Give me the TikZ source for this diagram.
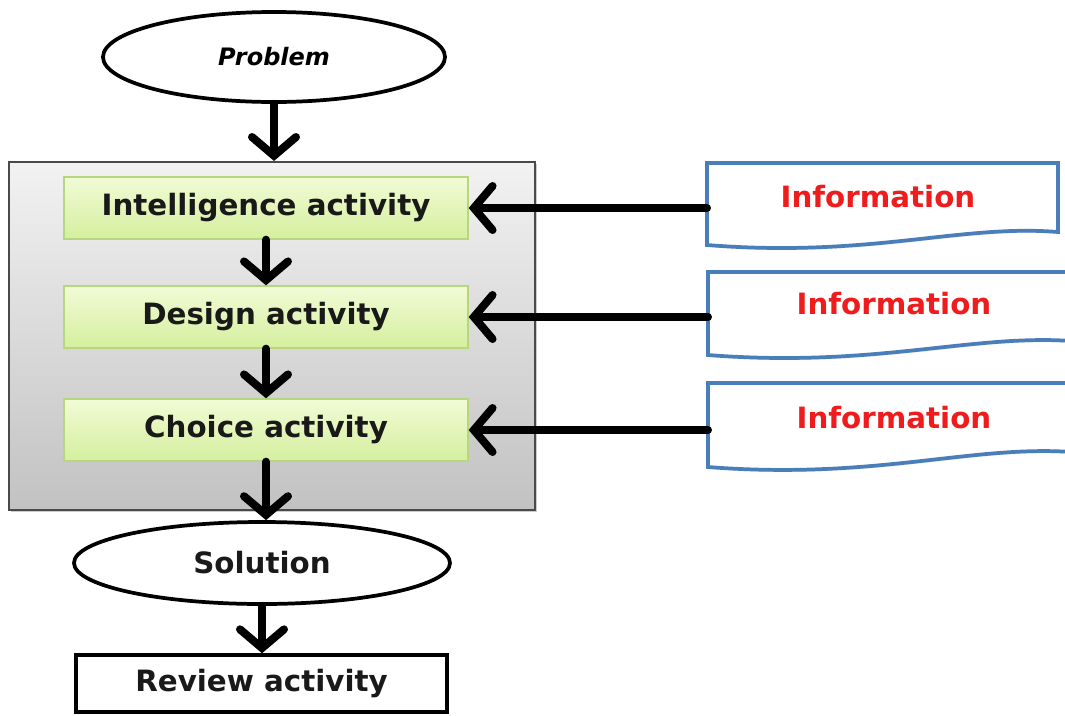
\documentclass[tikz,border=0pt]{standalone}
\usepackage{fontspec}
\setmainfont{DejaVu Sans}
\usetikzlibrary{arrows.meta,shapes.geometric,shadows}
\definecolor{infoblue}{HTML}{4A7EBB}
\definecolor{infored}{HTML}{EE1C1C}
\definecolor{grnborder}{HTML}{B6D77E}
\definecolor{grntop}{HTML}{F1FBD6}
\definecolor{grnbot}{HTML}{D5EF9E}
\definecolor{graytop}{HTML}{F2F2F2}
\definecolor{graybot}{HTML}{C2C2C2}
\definecolor{grayborder}{HTML}{4A4A4A}
\tikzset{
  txt/.style={font=\fontsize{22}{24}\selectfont\bfseries, text=black!90},
  graybox/.style={draw=grayborder, line width=1.6pt, top color=graytop, bottom color=graybot,
    minimum width=394.5pt, minimum height=261pt, inner sep=0pt,
    drop shadow={shadow xshift=1.5pt, shadow yshift=-1.5pt, opacity=0.4}},
  grnbox/.style={draw=grnborder, line width=1pt, top color=grntop, bottom color=grnbot,
    minimum width=303pt, minimum height=46.5pt, inner sep=0pt, txt},
  oval/.style={ellipse, draw=black, line width=2.8pt, fill=white, inner sep=0pt},
  revbox/.style={draw=black, line width=2.6pt, fill=white, minimum width=278pt,
    minimum height=42.75pt, inner sep=0pt, txt},
  infoarea/.style={draw=none, inner sep=0pt, minimum height=61.5pt},
  infotxt/.style={font=\fontsize{22}{24}\selectfont\bfseries, text=infored},
  infoshape/.style={draw=infoblue, line width=2.8pt, fill=white,
    drop shadow={shadow xshift=1.5pt, shadow yshift=-1.5pt, opacity=0.25}},
  arr/.style={line width=6pt, line cap=round, -{Straight Barb[length=14pt,width=33pt,line cap=round]}},
}
\begin{document}
\begin{tikzpicture}[x=0.75pt,y=-0.75pt]
\useasboundingbox (0,0) rectangle (1065,715);

% system box
\node[graybox] (sys) at (272,336) {};

% flow nodes
\node[oval, minimum width=256.5pt, minimum height=67.5pt,
      font=\fontsize{18}{20}\selectfont\bfseries\itshape] (prob) at (274,57) {Problem};
\node[grnbox] (int) at (266,208) {Intelligence activity};
\node[grnbox] (des) at (266,317) {Design activity};
\node[grnbox] (cho) at (266,430) {Choice activity};
\node[oval, minimum width=282pt, minimum height=61.5pt, txt] (sol) at (262,563) {Solution};
\node[revbox] (rev) at (261.5,683.5) {Review activity};

% information documents
\path[infoshape] (707,163) -- (1058,163) -- (1058,232)
   .. controls (960,224) and (870,258) .. (707,245) -- cycle;
\path[infoshape] (708,272) -- (1072,272) -- (1072,341)
   .. controls (970,334) and (875,368) .. (708,355) -- cycle;
\path[infoshape] (708,383) -- (1072,383) -- (1072,452)
   .. controls (970,445) and (875,480) .. (708,467) -- cycle;

\node[infoarea, minimum width=263pt, anchor=west] (i1) at (707,205) {};
\node[infoarea, minimum width=270pt, anchor=west] (i2) at (708,314) {};
\node[infoarea, minimum width=270pt, anchor=west] (i3) at (708,425) {};
\node[infotxt] (t1) at (878,197) {Information};
\node[infotxt] (t2) at (894,304) {Information};
\node[infotxt] (t3) at (894,418) {Information};

% connectors
\draw[arr] (prob.south) -- (prob.south |- sys.north);
\draw[arr] (int.south) -- (des.north);
\draw[arr] (des.south) -- (cho.north);
\draw[arr] (cho.south) -- (cho.south |- sol.north);
\draw[arr] (sol.south) -- (sol.south |- rev.north);
\draw[arr] (i1.west |- int.east) -- (int.east);
\draw[arr] (i2.west |- des.east) -- (des.east);
\draw[arr] (i3.west |- cho.east) -- (cho.east);
\end{tikzpicture}
\end{document}
